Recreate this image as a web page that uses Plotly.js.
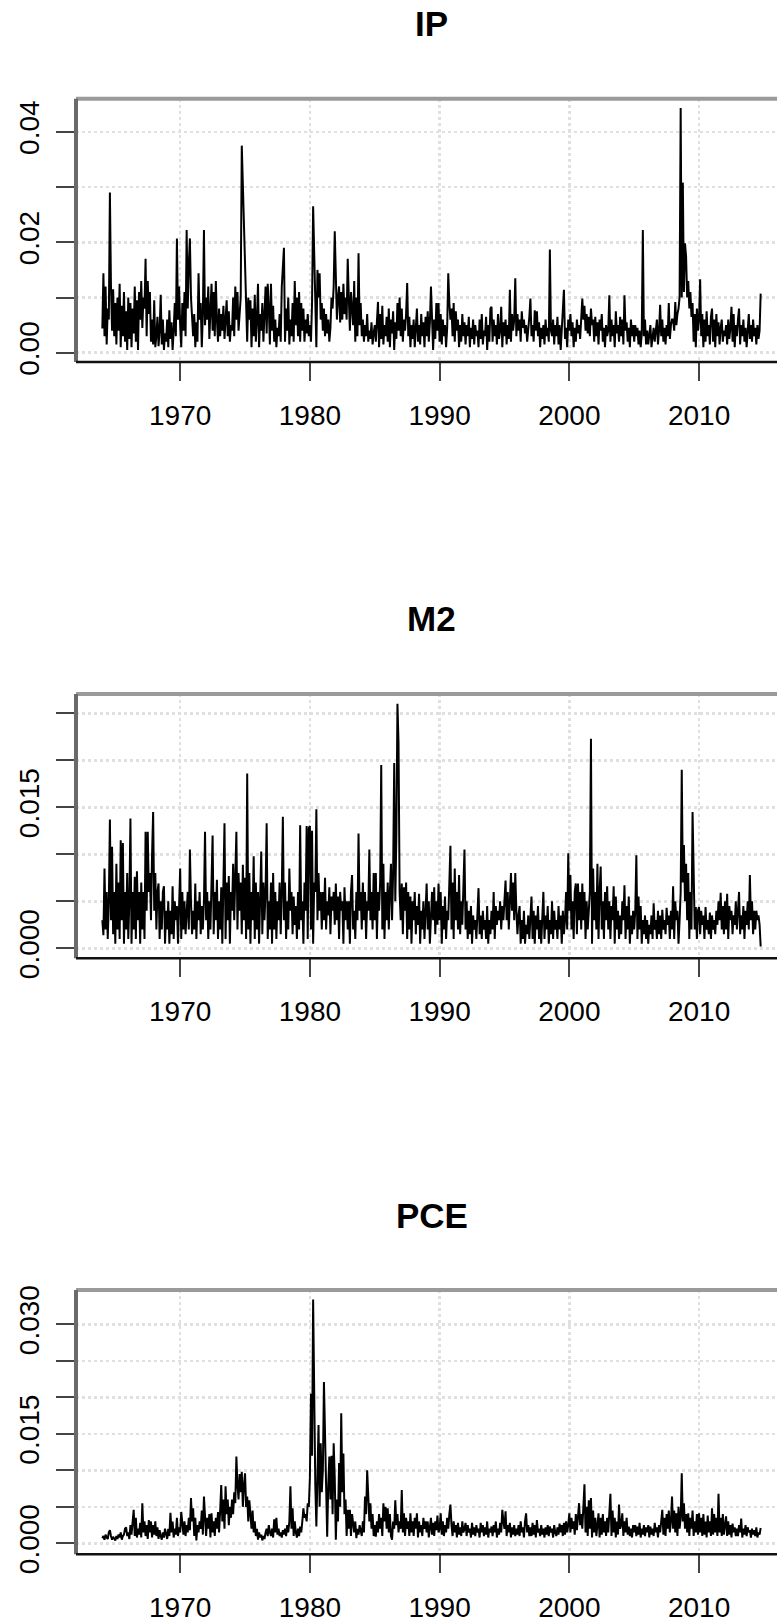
<!DOCTYPE html>
<html>
<head>
<meta charset="utf-8">
<script src="https://cdn.plot.ly/plotly-3.0.1.min.js"></script>
<style>
html, body { margin: 0; padding: 0; overflow: hidden; background: #fff; }
#chart { width: 830px; height: 1623px; }
</style>
</head>
<body>
<div id="chart"></div>
<script>
// Monthly series, January 1964 to October 2014 (one row per year)
const startYear = 1964;
const monthsPerYear = 12;
const panelTitles = ["IP", "M2", "PCE"];
const xTickVals = [1970, 1980, 1990, 2000, 2010];
const xTickText = ["1970", "1980", "1990", "2000", "2010"];

const ipTickVals = [0, 0.01, 0.02, 0.03, 0.04];
const ipTickText = ["0.00", "", "0.02", "", "0.04"];
const m2TickVals = [0, 0.005, 0.01, 0.015, 0.02, 0.025];
const m2TickText = ["0.000", "", "", "0.015", "", ""];
const pceTickVals = [0, 0.005, 0.01, 0.015, 0.02, 0.025, 0.03];
const pceTickText = ["0.000", "", "", "0.015", "", "", "0.030"];

const ipRows = [
  [0.0044, 0.0144, 0.0030, 0.0120, 0.0015, 0.0080, 0.0060, 0.0290, 0.0120, 0.0040, 0.0115, 0.0030], // 1964
  [0.0090, 0.0015, 0.0100, 0.0040, 0.0125, 0.0010, 0.0085, 0.0030, 0.0110, 0.0020, 0.0075, 0.0005], // 1965
  [0.0100, 0.0025, 0.0090, 0.0010, 0.0080, 0.0035, 0.0120, 0.0020, 0.0095, 0.0005, 0.0110, 0.0060], // 1966
  [0.0130, 0.0045, 0.0100, 0.0080, 0.0170, 0.0030, 0.0130, 0.0070, 0.0110, 0.0020, 0.0060, 0.0015], // 1967
  [0.0095, 0.0010, 0.0030, 0.0065, 0.0012, 0.0040, 0.0105, 0.0015, 0.0060, 0.0005, 0.0035, 0.0020], // 1968
  [0.0060, 0.0010, 0.0077, 0.0025, 0.0055, 0.0005, 0.0040, 0.0090, 0.0030, 0.0207, 0.0060, 0.0120], // 1969
  [0.0050, 0.0010, 0.0090, 0.0040, 0.0110, 0.0030, 0.0222, 0.0080, 0.0160, 0.0207, 0.0100, 0.0050], // 1970
  [0.0030, 0.0070, 0.0010, 0.0055, 0.0020, 0.0144, 0.0060, 0.0090, 0.0010, 0.0070, 0.0222, 0.0050], // 1971
  [0.0100, 0.0060, 0.0120, 0.0025, 0.0090, 0.0125, 0.0040, 0.0110, 0.0030, 0.0130, 0.0060, 0.0020], // 1972
  [0.0080, 0.0030, 0.0070, 0.0040, 0.0085, 0.0025, 0.0060, 0.0095, 0.0030, 0.0075, 0.0020, 0.0050], // 1973
  [0.0040, 0.0100, 0.0030, 0.0120, 0.0060, 0.0110, 0.0040, 0.0070, 0.0100, 0.0375, 0.0300, 0.0250], // 1974
  [0.0160, 0.0120, 0.0020, 0.0100, 0.0060, 0.0095, 0.0010, 0.0080, 0.0030, 0.0105, 0.0020, 0.0060], // 1975
  [0.0125, 0.0010, 0.0070, 0.0040, 0.0090, 0.0020, 0.0060, 0.0120, 0.0035, 0.0125, 0.0080, 0.0015], // 1976
  [0.0125, 0.0040, 0.0085, 0.0020, 0.0060, 0.0010, 0.0045, 0.0030, 0.0070, 0.0020, 0.0120, 0.0160], // 1977
  [0.0190, 0.0020, 0.0080, 0.0040, 0.0100, 0.0015, 0.0060, 0.0030, 0.0090, 0.0020, 0.0130, 0.0050], // 1978
  [0.0100, 0.0030, 0.0110, 0.0020, 0.0090, 0.0040, 0.0080, 0.0020, 0.0060, 0.0035, 0.0070, 0.0030], // 1979
  [0.0050, 0.0020, 0.0090, 0.0265, 0.0180, 0.0100, 0.0010, 0.0150, 0.0100, 0.0144, 0.0060, 0.0090], // 1980
  [0.0040, 0.0080, 0.0030, 0.0070, 0.0035, 0.0060, 0.0020, 0.0045, 0.0100, 0.0080, 0.0120, 0.0220], // 1981
  [0.0110, 0.0060, 0.0100, 0.0120, 0.0055, 0.0110, 0.0060, 0.0125, 0.0070, 0.0100, 0.0060, 0.0170], // 1982
  [0.0100, 0.0040, 0.0110, 0.0080, 0.0050, 0.0130, 0.0020, 0.0100, 0.0030, 0.0180, 0.0050, 0.0090], // 1983
  [0.0030, 0.0060, 0.0020, 0.0050, 0.0030, 0.0070, 0.0020, 0.0040, 0.0025, 0.0055, 0.0015, 0.0035], // 1984
  [0.0050, 0.0020, 0.0060, 0.0092, 0.0010, 0.0070, 0.0025, 0.0085, 0.0015, 0.0050, 0.0030, 0.0065], // 1985
  [0.0020, 0.0080, 0.0010, 0.0060, 0.0035, 0.0075, 0.0005, 0.0055, 0.0025, 0.0090, 0.0040, 0.0100], // 1986
  [0.0030, 0.0080, 0.0020, 0.0060, 0.0040, 0.0070, 0.0126, 0.0030, 0.0065, 0.0010, 0.0050, 0.0025], // 1987
  [0.0060, 0.0010, 0.0045, 0.0080, 0.0020, 0.0050, 0.0015, 0.0070, 0.0030, 0.0055, 0.0010, 0.0065], // 1988
  [0.0030, 0.0075, 0.0020, 0.0055, 0.0120, 0.0035, 0.0005, 0.0060, 0.0025, 0.0090, 0.0040, 0.0090], // 1989
  [0.0020, 0.0070, 0.0015, 0.0060, 0.0030, 0.0050, 0.0010, 0.0045, 0.0144, 0.0090, 0.0060, 0.0080], // 1990
  [0.0030, 0.0090, 0.0020, 0.0075, 0.0040, 0.0060, 0.0010, 0.0050, 0.0020, 0.0070, 0.0030, 0.0055], // 1991
  [0.0015, 0.0050, 0.0030, 0.0065, 0.0010, 0.0045, 0.0025, 0.0060, 0.0015, 0.0050, 0.0030, 0.0040], // 1992
  [0.0010, 0.0060, 0.0025, 0.0070, 0.0015, 0.0040, 0.0030, 0.0065, 0.0005, 0.0050, 0.0020, 0.0080], // 1993
  [0.0083, 0.0020, 0.0060, 0.0030, 0.0050, 0.0015, 0.0070, 0.0025, 0.0040, 0.0083, 0.0010, 0.0055], // 1994
  [0.0030, 0.0060, 0.0015, 0.0050, 0.0025, 0.0114, 0.0020, 0.0070, 0.0040, 0.0060, 0.0135, 0.0030], // 1995
  [0.0070, 0.0040, 0.0060, 0.0020, 0.0075, 0.0045, 0.0060, 0.0035, 0.0050, 0.0020, 0.0040, 0.0065], // 1996
  [0.0098, 0.0030, 0.0050, 0.0020, 0.0077, 0.0040, 0.0075, 0.0030, 0.0055, 0.0010, 0.0045, 0.0025], // 1997
  [0.0050, 0.0015, 0.0060, 0.0030, 0.0045, 0.0020, 0.0187, 0.0040, 0.0030, 0.0060, 0.0015, 0.0050], // 1998
  [0.0030, 0.0065, 0.0015, 0.0050, 0.0005, 0.0040, 0.0060, 0.0114, 0.0025, 0.0045, 0.0010, 0.0060], // 1999
  [0.0040, 0.0070, 0.0030, 0.0055, 0.0010, 0.0045, 0.0020, 0.0060, 0.0035, 0.0050, 0.0025, 0.0070], // 2000
  [0.0098, 0.0060, 0.0085, 0.0040, 0.0070, 0.0035, 0.0065, 0.0030, 0.0080, 0.0050, 0.0060, 0.0020], // 2001
  [0.0065, 0.0030, 0.0055, 0.0015, 0.0060, 0.0040, 0.0070, 0.0020, 0.0045, 0.0010, 0.0050, 0.0030], // 2002
  [0.0040, 0.0104, 0.0020, 0.0060, 0.0030, 0.0050, 0.0010, 0.0075, 0.0035, 0.0050, 0.0020, 0.0065], // 2003
  [0.0030, 0.0060, 0.0015, 0.0104, 0.0040, 0.0055, 0.0020, 0.0045, 0.0010, 0.0060, 0.0030, 0.0050], // 2004
  [0.0020, 0.0050, 0.0030, 0.0045, 0.0015, 0.0040, 0.0010, 0.0035, 0.0222, 0.0030, 0.0060, 0.0015], // 2005
  [0.0040, 0.0015, 0.0035, 0.0050, 0.0010, 0.0030, 0.0045, 0.0020, 0.0035, 0.0060, 0.0015, 0.0040], // 2006
  [0.0087, 0.0030, 0.0060, 0.0020, 0.0045, 0.0015, 0.0050, 0.0030, 0.0090, 0.0025, 0.0050, 0.0060], // 2007
  [0.0060, 0.0040, 0.0092, 0.0050, 0.0070, 0.0080, 0.0100, 0.0443, 0.0100, 0.0308, 0.0110, 0.0198], // 2008
  [0.0174, 0.0100, 0.0130, 0.0080, 0.0110, 0.0065, 0.0090, 0.0020, 0.0070, 0.0010, 0.0080, 0.0040], // 2009
  [0.0060, 0.0133, 0.0030, 0.0070, 0.0010, 0.0060, 0.0020, 0.0075, 0.0030, 0.0050, 0.0015, 0.0065], // 2010
  [0.0080, 0.0020, 0.0060, 0.0010, 0.0070, 0.0030, 0.0055, 0.0015, 0.0045, 0.0060, 0.0020, 0.0040], // 2011
  [0.0030, 0.0050, 0.0015, 0.0060, 0.0025, 0.0045, 0.0083, 0.0020, 0.0070, 0.0010, 0.0050, 0.0030], // 2012
  [0.0060, 0.0080, 0.0015, 0.0050, 0.0030, 0.0060, 0.0020, 0.0045, 0.0010, 0.0055, 0.0070, 0.0025], // 2013
  [0.0050, 0.0020, 0.0060, 0.0030, 0.0045, 0.0015, 0.0050, 0.0025, 0.0040, 0.0107]                  // 2014
];

const m2Rows = [
  [0.0030, 0.0014, 0.0085, 0.0020, 0.0060, 0.0010, 0.0050, 0.0137, 0.0030, 0.0108, 0.0015, 0.0060], // 1964
  [0.0005, 0.0090, 0.0020, 0.0070, 0.0010, 0.0115, 0.0030, 0.0112, 0.0005, 0.0060, 0.0020, 0.0080], // 1965
  [0.0010, 0.0050, 0.0138, 0.0005, 0.0060, 0.0020, 0.0076, 0.0010, 0.0082, 0.0030, 0.0060, 0.0005], // 1966
  [0.0070, 0.0020, 0.0060, 0.0010, 0.0124, 0.0040, 0.0124, 0.0060, 0.0080, 0.0030, 0.0100, 0.0145], // 1967
  [0.0040, 0.0080, 0.0020, 0.0060, 0.0069, 0.0010, 0.0050, 0.0020, 0.0060, 0.0066, 0.0005, 0.0040], // 1968
  [0.0020, 0.0050, 0.0005, 0.0040, 0.0015, 0.0066, 0.0010, 0.0050, 0.0030, 0.0045, 0.0005, 0.0060], // 1969
  [0.0085, 0.0010, 0.0060, 0.0020, 0.0050, 0.0015, 0.0040, 0.0060, 0.0020, 0.0105, 0.0050, 0.0015], // 1970
  [0.0040, 0.0020, 0.0069, 0.0010, 0.0050, 0.0030, 0.0060, 0.0015, 0.0045, 0.0020, 0.0050, 0.0124], // 1971
  [0.0030, 0.0060, 0.0010, 0.0050, 0.0020, 0.0070, 0.0120, 0.0015, 0.0060, 0.0030, 0.0073, 0.0010], // 1972
  [0.0050, 0.0020, 0.0065, 0.0005, 0.0060, 0.0133, 0.0010, 0.0070, 0.0030, 0.0077, 0.0005, 0.0060], // 1973
  [0.0040, 0.0090, 0.0030, 0.0070, 0.0124, 0.0020, 0.0080, 0.0040, 0.0070, 0.0015, 0.0089, 0.0030], // 1974
  [0.0075, 0.0010, 0.0186, 0.0020, 0.0080, 0.0005, 0.0060, 0.0030, 0.0098, 0.0010, 0.0070, 0.0020], // 1975
  [0.0060, 0.0005, 0.0050, 0.0103, 0.0015, 0.0070, 0.0030, 0.0060, 0.0133, 0.0010, 0.0050, 0.0020], // 1976
  [0.0070, 0.0005, 0.0080, 0.0020, 0.0060, 0.0010, 0.0050, 0.0030, 0.0070, 0.0015, 0.0060, 0.0140], // 1977
  [0.0030, 0.0070, 0.0010, 0.0050, 0.0020, 0.0085, 0.0040, 0.0060, 0.0015, 0.0055, 0.0025, 0.0045], // 1978
  [0.0010, 0.0060, 0.0020, 0.0131, 0.0030, 0.0050, 0.0005, 0.0070, 0.0040, 0.0130, 0.0010, 0.0128], // 1979
  [0.0130, 0.0020, 0.0125, 0.0005, 0.0070, 0.0060, 0.0148, 0.0030, 0.0080, 0.0040, 0.0060, 0.0020], // 1980
  [0.0060, 0.0030, 0.0075, 0.0020, 0.0050, 0.0035, 0.0065, 0.0015, 0.0055, 0.0040, 0.0060, 0.0025], // 1981
  [0.0069, 0.0030, 0.0055, 0.0010, 0.0060, 0.0040, 0.0050, 0.0005, 0.0065, 0.0030, 0.0050, 0.0020], // 1982
  [0.0050, 0.0005, 0.0060, 0.0078, 0.0020, 0.0040, 0.0010, 0.0060, 0.0030, 0.0122, 0.0040, 0.0060], // 1983
  [0.0020, 0.0070, 0.0030, 0.0060, 0.0010, 0.0050, 0.0040, 0.0105, 0.0030, 0.0060, 0.0020, 0.0080], // 1984
  [0.0030, 0.0080, 0.0010, 0.0060, 0.0040, 0.0070, 0.0195, 0.0020, 0.0090, 0.0010, 0.0060, 0.0030], // 1985
  [0.0070, 0.0020, 0.0060, 0.0090, 0.0030, 0.0080, 0.0197, 0.0050, 0.0120, 0.0260, 0.0218, 0.0060], // 1986
  [0.0030, 0.0069, 0.0015, 0.0065, 0.0040, 0.0070, 0.0010, 0.0060, 0.0020, 0.0055, 0.0005, 0.0050], // 1987
  [0.0030, 0.0060, 0.0015, 0.0045, 0.0025, 0.0058, 0.0005, 0.0040, 0.0020, 0.0050, 0.0010, 0.0035], // 1988
  [0.0069, 0.0020, 0.0050, 0.0005, 0.0040, 0.0060, 0.0030, 0.0065, 0.0015, 0.0050, 0.0025, 0.0069], // 1989
  [0.0030, 0.0060, 0.0005, 0.0045, 0.0020, 0.0055, 0.0010, 0.0040, 0.0030, 0.0060, 0.0109, 0.0020], // 1990
  [0.0070, 0.0010, 0.0085, 0.0030, 0.0060, 0.0020, 0.0078, 0.0015, 0.0050, 0.0025, 0.0060, 0.0105], // 1991
  [0.0020, 0.0050, 0.0010, 0.0040, 0.0015, 0.0045, 0.0005, 0.0035, 0.0020, 0.0030, 0.0010, 0.0040], // 1992
  [0.0064, 0.0015, 0.0035, 0.0010, 0.0040, 0.0020, 0.0030, 0.0010, 0.0045, 0.0005, 0.0030, 0.0015], // 1993
  [0.0040, 0.0020, 0.0060, 0.0010, 0.0045, 0.0025, 0.0040, 0.0030, 0.0050, 0.0020, 0.0045, 0.0030], // 1994
  [0.0055, 0.0072, 0.0030, 0.0060, 0.0020, 0.0050, 0.0080, 0.0040, 0.0070, 0.0030, 0.0080, 0.0040], // 1995
  [0.0015, 0.0035, 0.0045, 0.0005, 0.0030, 0.0010, 0.0040, 0.0005, 0.0025, 0.0015, 0.0035, 0.0010], // 1996
  [0.0030, 0.0055, 0.0010, 0.0040, 0.0005, 0.0035, 0.0020, 0.0045, 0.0010, 0.0030, 0.0005, 0.0040], // 1997
  [0.0060, 0.0010, 0.0035, 0.0020, 0.0045, 0.0005, 0.0030, 0.0015, 0.0050, 0.0010, 0.0040, 0.0020], // 1998
  [0.0030, 0.0010, 0.0045, 0.0020, 0.0035, 0.0005, 0.0040, 0.0015, 0.0030, 0.0060, 0.0020, 0.0101], // 1999
  [0.0040, 0.0078, 0.0020, 0.0050, 0.0010, 0.0060, 0.0069, 0.0015, 0.0069, 0.0030, 0.0060, 0.0020], // 2000
  [0.0069, 0.0030, 0.0060, 0.0010, 0.0050, 0.0020, 0.0040, 0.0060, 0.0223, 0.0005, 0.0085, 0.0030], // 2001
  [0.0060, 0.0020, 0.0090, 0.0010, 0.0060, 0.0087, 0.0020, 0.0050, 0.0010, 0.0060, 0.0030, 0.0066], // 2002
  [0.0020, 0.0050, 0.0010, 0.0045, 0.0030, 0.0066, 0.0005, 0.0055, 0.0020, 0.0040, 0.0010, 0.0035], // 2003
  [0.0015, 0.0050, 0.0030, 0.0067, 0.0010, 0.0045, 0.0020, 0.0055, 0.0005, 0.0035, 0.0015, 0.0040], // 2004
  [0.0020, 0.0040, 0.0099, 0.0010, 0.0055, 0.0020, 0.0045, 0.0005, 0.0030, 0.0015, 0.0035, 0.0010], // 2005
  [0.0030, 0.0005, 0.0025, 0.0015, 0.0035, 0.0010, 0.0048, 0.0020, 0.0030, 0.0010, 0.0040, 0.0015], // 2006
  [0.0035, 0.0010, 0.0041, 0.0020, 0.0030, 0.0015, 0.0043, 0.0025, 0.0035, 0.0010, 0.0040, 0.0020], // 2007
  [0.0066, 0.0010, 0.0050, 0.0030, 0.0040, 0.0005, 0.0030, 0.0060, 0.0190, 0.0070, 0.0110, 0.0050], // 2008
  [0.0090, 0.0030, 0.0080, 0.0010, 0.0060, 0.0020, 0.0145, 0.0055, 0.0020, 0.0044, 0.0010, 0.0040], // 2009
  [0.0044, 0.0015, 0.0040, 0.0025, 0.0035, 0.0010, 0.0044, 0.0020, 0.0030, 0.0015, 0.0038, 0.0010], // 2010
  [0.0035, 0.0020, 0.0030, 0.0015, 0.0040, 0.0025, 0.0050, 0.0030, 0.0059, 0.0020, 0.0045, 0.0015], // 2011
  [0.0050, 0.0020, 0.0058, 0.0010, 0.0045, 0.0030, 0.0040, 0.0015, 0.0035, 0.0025, 0.0050, 0.0020], // 2012
  [0.0040, 0.0060, 0.0015, 0.0035, 0.0020, 0.0045, 0.0010, 0.0040, 0.0025, 0.0050, 0.0020, 0.0078], // 2013
  [0.0030, 0.0050, 0.0015, 0.0040, 0.0020, 0.0040, 0.0030, 0.0035, 0.0025, 0.0002]                  // 2014
];

const pceRows = [
  [0.0007, 0.0010, 0.0005, 0.0012, 0.0008, 0.0006, 0.0015, 0.0018, 0.0010, 0.0005, 0.0009, 0.0007], // 1964
  [0.0004, 0.0010, 0.0006, 0.0012, 0.0008, 0.0015, 0.0005, 0.0010, 0.0012, 0.0020, 0.0022, 0.0010], // 1965
  [0.0015, 0.0006, 0.0025, 0.0012, 0.0030, 0.0046, 0.0010, 0.0035, 0.0008, 0.0020, 0.0012, 0.0028], // 1966
  [0.0008, 0.0055, 0.0015, 0.0030, 0.0010, 0.0025, 0.0006, 0.0032, 0.0015, 0.0030, 0.0008, 0.0025], // 1967
  [0.0012, 0.0030, 0.0010, 0.0022, 0.0006, 0.0018, 0.0010, 0.0005, 0.0015, 0.0008, 0.0020, 0.0012], // 1968
  [0.0006, 0.0020, 0.0010, 0.0042, 0.0015, 0.0030, 0.0008, 0.0020, 0.0012, 0.0035, 0.0010, 0.0022], // 1969
  [0.0015, 0.0043, 0.0020, 0.0012, 0.0030, 0.0010, 0.0025, 0.0015, 0.0035, 0.0018, 0.0062, 0.0030], // 1970
  [0.0048, 0.0010, 0.0035, 0.0004, 0.0025, 0.0015, 0.0030, 0.0020, 0.0045, 0.0012, 0.0064, 0.0040], // 1971
  [0.0010, 0.0035, 0.0020, 0.0040, 0.0008, 0.0041, 0.0015, 0.0030, 0.0010, 0.0035, 0.0020, 0.0043], // 1972
  [0.0015, 0.0045, 0.0080, 0.0030, 0.0060, 0.0020, 0.0078, 0.0040, 0.0060, 0.0025, 0.0050, 0.0035], // 1973
  [0.0060, 0.0040, 0.0070, 0.0055, 0.0119, 0.0080, 0.0060, 0.0095, 0.0070, 0.0098, 0.0050, 0.0080], // 1974
  [0.0096, 0.0050, 0.0064, 0.0030, 0.0059, 0.0040, 0.0020, 0.0045, 0.0015, 0.0030, 0.0010, 0.0020], // 1975
  [0.0005, 0.0015, 0.0008, 0.0012, 0.0004, 0.0010, 0.0006, 0.0015, 0.0020, 0.0010, 0.0025, 0.0015], // 1976
  [0.0010, 0.0020, 0.0008, 0.0033, 0.0015, 0.0035, 0.0012, 0.0020, 0.0010, 0.0015, 0.0008, 0.0018], // 1977
  [0.0012, 0.0020, 0.0010, 0.0025, 0.0015, 0.0030, 0.0078, 0.0020, 0.0048, 0.0010, 0.0030, 0.0015], // 1978
  [0.0008, 0.0020, 0.0010, 0.0023, 0.0015, 0.0030, 0.0048, 0.0035, 0.0040, 0.0030, 0.0055, 0.0050], // 1979
  [0.0090, 0.0205, 0.0120, 0.0334, 0.0170, 0.0080, 0.0023, 0.0090, 0.0162, 0.0050, 0.0137, 0.0070], // 1980
  [0.0100, 0.0221, 0.0150, 0.0100, 0.0009, 0.0080, 0.0119, 0.0060, 0.0120, 0.0040, 0.0137, 0.0090], // 1981
  [0.0005, 0.0060, 0.0030, 0.0110, 0.0050, 0.0178, 0.0070, 0.0123, 0.0040, 0.0060, 0.0010, 0.0046], // 1982
  [0.0020, 0.0046, 0.0010, 0.0040, 0.0025, 0.0015, 0.0030, 0.0007, 0.0020, 0.0012, 0.0025, 0.0015], // 1983
  [0.0010, 0.0030, 0.0015, 0.0064, 0.0040, 0.0100, 0.0060, 0.0030, 0.0055, 0.0020, 0.0040, 0.0010], // 1984
  [0.0025, 0.0009, 0.0030, 0.0015, 0.0040, 0.0020, 0.0035, 0.0010, 0.0055, 0.0030, 0.0050, 0.0020], // 1985
  [0.0048, 0.0015, 0.0040, 0.0010, 0.0005, 0.0030, 0.0020, 0.0059, 0.0025, 0.0040, 0.0015, 0.0030], // 1986
  [0.0020, 0.0073, 0.0015, 0.0041, 0.0010, 0.0035, 0.0020, 0.0030, 0.0010, 0.0041, 0.0015, 0.0030], // 1987
  [0.0010, 0.0035, 0.0020, 0.0041, 0.0008, 0.0030, 0.0015, 0.0025, 0.0010, 0.0035, 0.0020, 0.0030], // 1988
  [0.0015, 0.0030, 0.0008, 0.0025, 0.0035, 0.0012, 0.0028, 0.0010, 0.0030, 0.0018, 0.0038, 0.0015], // 1989
  [0.0020, 0.0041, 0.0012, 0.0030, 0.0010, 0.0025, 0.0015, 0.0035, 0.0020, 0.0040, 0.0053, 0.0025], // 1990
  [0.0010, 0.0030, 0.0015, 0.0025, 0.0008, 0.0028, 0.0012, 0.0022, 0.0010, 0.0030, 0.0015, 0.0020], // 1991
  [0.0028, 0.0010, 0.0025, 0.0015, 0.0020, 0.0008, 0.0028, 0.0012, 0.0022, 0.0010, 0.0025, 0.0015], // 1992
  [0.0020, 0.0008, 0.0028, 0.0015, 0.0025, 0.0010, 0.0022, 0.0012, 0.0030, 0.0008, 0.0020, 0.0015], // 1993
  [0.0023, 0.0010, 0.0025, 0.0015, 0.0030, 0.0008, 0.0020, 0.0012, 0.0028, 0.0015, 0.0046, 0.0030], // 1994
  [0.0020, 0.0044, 0.0010, 0.0025, 0.0015, 0.0028, 0.0008, 0.0022, 0.0012, 0.0025, 0.0010, 0.0020], // 1995
  [0.0012, 0.0025, 0.0010, 0.0030, 0.0015, 0.0022, 0.0008, 0.0030, 0.0041, 0.0015, 0.0025, 0.0010], // 1996
  [0.0022, 0.0010, 0.0028, 0.0012, 0.0025, 0.0008, 0.0032, 0.0015, 0.0020, 0.0010, 0.0025, 0.0012], // 1997
  [0.0020, 0.0008, 0.0022, 0.0012, 0.0025, 0.0010, 0.0023, 0.0015, 0.0020, 0.0008, 0.0025, 0.0015], // 1998
  [0.0010, 0.0022, 0.0012, 0.0027, 0.0015, 0.0025, 0.0010, 0.0028, 0.0012, 0.0030, 0.0015, 0.0025], // 1999
  [0.0041, 0.0015, 0.0035, 0.0020, 0.0030, 0.0012, 0.0040, 0.0018, 0.0035, 0.0055, 0.0025, 0.0040], // 2000
  [0.0020, 0.0045, 0.0081, 0.0015, 0.0050, 0.0010, 0.0059, 0.0020, 0.0062, 0.0008, 0.0045, 0.0015], // 2001
  [0.0035, 0.0010, 0.0030, 0.0041, 0.0008, 0.0035, 0.0012, 0.0040, 0.0015, 0.0030, 0.0010, 0.0035], // 2002
  [0.0015, 0.0040, 0.0068, 0.0010, 0.0045, 0.0015, 0.0035, 0.0008, 0.0030, 0.0012, 0.0053, 0.0020], // 2003
  [0.0025, 0.0041, 0.0010, 0.0030, 0.0015, 0.0035, 0.0012, 0.0023, 0.0010, 0.0020, 0.0008, 0.0025], // 2004
  [0.0015, 0.0025, 0.0010, 0.0023, 0.0012, 0.0028, 0.0008, 0.0020, 0.0012, 0.0025, 0.0010, 0.0022], // 2005
  [0.0015, 0.0025, 0.0008, 0.0023, 0.0012, 0.0020, 0.0010, 0.0028, 0.0015, 0.0022, 0.0008, 0.0025], // 2006
  [0.0015, 0.0030, 0.0046, 0.0012, 0.0035, 0.0010, 0.0040, 0.0020, 0.0045, 0.0015, 0.0030, 0.0064], // 2007
  [0.0020, 0.0045, 0.0015, 0.0041, 0.0010, 0.0050, 0.0020, 0.0035, 0.0096, 0.0030, 0.0055, 0.0020], // 2008
  [0.0040, 0.0015, 0.0041, 0.0010, 0.0035, 0.0020, 0.0045, 0.0010, 0.0030, 0.0015, 0.0040, 0.0012], // 2009
  [0.0041, 0.0015, 0.0035, 0.0010, 0.0040, 0.0012, 0.0030, 0.0008, 0.0038, 0.0015, 0.0030, 0.0010], // 2010
  [0.0048, 0.0012, 0.0040, 0.0015, 0.0035, 0.0010, 0.0068, 0.0015, 0.0035, 0.0010, 0.0040, 0.0012], // 2011
  [0.0025, 0.0037, 0.0010, 0.0030, 0.0012, 0.0025, 0.0008, 0.0027, 0.0015, 0.0022, 0.0010, 0.0020], // 2012
  [0.0010, 0.0025, 0.0015, 0.0034, 0.0008, 0.0020, 0.0012, 0.0025, 0.0010, 0.0022, 0.0015, 0.0018], // 2013
  [0.0008, 0.0020, 0.0012, 0.0018, 0.0010, 0.0022, 0.0008, 0.0015, 0.0012, 0.0021]                  // 2014
];

const ipValues = ipRows.flat();
const m2Values = m2Rows.flat();
const pceValues = pceRows.flat();

function timeIndex(n) {
  const t = [];
  for (let i = 0; i < n; i++) t.push(startYear + i / monthsPerYear);
  return t;
}

const seriesList = [ipValues, m2Values, pceValues];
const yRanges = [[-0.00168, 0.0460], [-0.00106, 0.02705], [-0.0015, 0.0347]];
const yTickVals = [ipTickVals, m2TickVals, pceTickVals];
const yTickText = [ipTickText, m2TickText, pceTickText];
const domains = [[0.77695, 0.93919], [0.40955, 0.57240], [0.04233, 0.20518]];
const titleY = [0.9855, 0.6190, 0.2513];

const FONT = '"Liberation Sans", Arial, Helvetica, sans-serif';
const traces = [];
const layout = {
  width: 830, height: 1623,
  margin: {l: 76, r: 43, t: 0, b: 0},
  paper_bgcolor: '#ffffff', plot_bgcolor: '#ffffff',
  showlegend: false,
  font: {family: FONT, color: '#000', size: 28},
  annotations: [], shapes: []
};

seriesList.forEach((vals, k) => {
  const sfx = k === 0 ? '' : String(k + 1);
  traces.push({
    type: 'scatter', mode: 'lines',
    x: timeIndex(vals.length), y: vals,
    xaxis: 'x' + sfx, yaxis: 'y' + sfx,
    line: {color: '#000', width: 2},
    hoverinfo: 'skip'
  });
  layout['xaxis' + sfx] = {
    anchor: 'y' + sfx, domain: [0, 1],
    range: [1961.97, 2016.78],
    tickmode: 'array', tickvals: xTickVals, ticktext: xTickText,
    ticks: 'outside', ticklen: 18, tickwidth: 2, tickcolor: '#444',
    ticklabelstandoff: 10,
    showline: false, zeroline: false,
    showgrid: true, gridcolor: '#e0e0e0', gridwidth: 2.5, griddash: 'dot',
    tickfont: {family: FONT, size: 28, color: '#000'},
    fixedrange: true
  };
  layout['yaxis' + sfx] = {
    anchor: 'x' + sfx, domain: domains[k],
    range: yRanges[k],
    tickmode: 'array', tickvals: yTickVals[k], ticktext: yTickText[k],
    tickangle: -90,
    ticks: 'outside', ticklen: 19, tickwidth: 2, tickcolor: '#444',
    ticklabelstandoff: 6,
    showline: false, zeroline: false,
    showgrid: true, gridcolor: '#e0e0e0', gridwidth: 2.5, griddash: 'dot',
    tickfont: {family: FONT, size: 28, color: '#000'},
    fixedrange: true
  };
  layout.annotations.push({
    text: '<b>' + panelTitles[k] + '</b>',
    xref: 'paper', yref: 'paper', x: 0.5, y: titleY[k],
    xanchor: 'center', yanchor: 'middle', showarrow: false,
    font: {family: FONT, size: 35, color: '#000'}
  });
  const xr = 'x' + sfx + ' domain', yr = 'y' + sfx + ' domain';
  layout.shapes.push(
    {type: 'line', xref: xr, yref: yr, x0: 0, x1: 1, y0: 1, y1: 1, line: {color: '#9a9a9a', width: 4}},
    {type: 'line', xref: xr, yref: yr, x0: 0, x1: 0, y0: 0, y1: 1, line: {color: '#6a6a6a', width: 4}},
    {type: 'line', xref: xr, yref: yr, x0: 0, x1: 1, y0: 0, y1: 0, line: {color: '#111', width: 2.5}},
    {type: 'line', xref: xr, yref: yr, x0: 1, x1: 1, y0: 0, y1: 1, line: {color: '#6a6a6a', width: 4}}
  );
});

Plotly.newPlot('chart', traces, layout, {staticPlot: true, displayModeBar: false});
</script>
</body>
</html>
